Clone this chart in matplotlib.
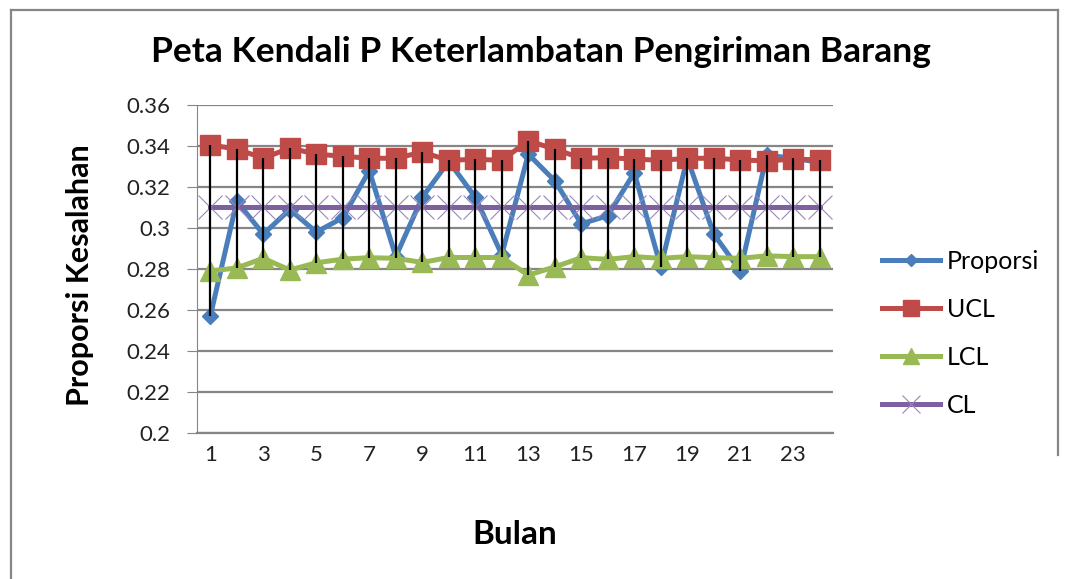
#===============================================================================
# Peta Kendali P - keterlambatan pengiriman barang
#===============================================================================
import numpy as np
import matplotlib
matplotlib.use('Agg')
import matplotlib.pyplot as plt
from matplotlib.lines import Line2D

plt.rcParams['font.family'] = ['Lato', 'DejaVu Sans']

#===============================================================================
# Data
#===============================================================================
bulan = list(range(1, 25))
proporsi = [0.257, 0.313, 0.297, 0.309, 0.298, 0.305, 0.328, 0.286,
            0.315, 0.3325, 0.315, 0.287, 0.336, 0.323, 0.302, 0.306,
            0.327, 0.281, 0.334, 0.297, 0.279, 0.3355, 0.334, 0.332]
ucl = [0.3405, 0.3385, 0.334, 0.339, 0.336, 0.335, 0.334, 0.334,
       0.337, 0.333, 0.3335, 0.333, 0.3425, 0.3385, 0.334, 0.3343,
       0.3336, 0.333, 0.334, 0.334, 0.3332, 0.3327, 0.3336, 0.3332]
lcl = [0.279, 0.2805, 0.2852, 0.2795, 0.283, 0.2848, 0.2855, 0.2852,
       0.2832, 0.2856, 0.2856, 0.2856, 0.277, 0.281, 0.2855, 0.2847,
       0.286, 0.2852, 0.286, 0.2855, 0.2852, 0.2864, 0.286, 0.286]
cl = [0.31] * 24
xtick_labels = [str(b) for b in bulan[::2]]

#===============================================================================
# Plot
#===============================================================================
fig = plt.figure(figsize=(10.68, 5.79), dpi=100)
ax = fig.add_axes([0.1845, 0.2522, 0.5955, 0.5665])

grid_c = '#868686'
ax.plot(bulan, proporsi, color='#4A7EBB', lw=3.6, marker='D', ms=8,
        label='Proporsi', zorder=3)
ax.plot(bulan, ucl, color='#BE4B48', lw=3.6, marker='s', ms=14,
        label='UCL', zorder=4)
ax.plot(bulan, lcl, color='#98B954', lw=3.6, marker='^', ms=14,
        label='LCL', zorder=5)
ax.plot(bulan, cl, color='#7D60A0', lw=3.6, marker='x', ms=17, mew=0.8,
        mec='#9A86BE', label='CL', zorder=6)

# high-low lines
allv = np.array([proporsi, ucl, lcl, cl])
ax.vlines(bulan, allv.min(axis=0), allv.max(axis=0), color='black',
          lw=1.6, zorder=7)

ax.set_xlim(0.5, 24.5)
ax.set_ylim(0.2, 0.36)
ax.set_yticks(np.arange(0.2, 0.361, 0.02))
ax.set_yticklabels(['0.2', '0.22', '0.24', '0.26', '0.28', '0.3',
                    '0.32', '0.34', '0.36'])
ax.set_xticks(bulan[::2])
ax.set_xticklabels(xtick_labels)
ax.grid(axis='y', color=grid_c, lw=1.6)
ax.set_axisbelow(True)
for s in ['top', 'right']:
    ax.spines[s].set_visible(False)
ax.spines['left'].set_color(grid_c)
ax.spines['bottom'].set_color(grid_c)
ax.spines['bottom'].set_linewidth(1.6)
ax.tick_params(axis='y', length=7, color=grid_c, pad=12, labelsize=16,
               labelcolor='#222222')
ax.tick_params(axis='x', length=0, pad=9, labelsize=16, labelcolor='#222222')

fig.text(0.5066, 0.910, 'Peta Kendali P Keterlambatan Pengiriman Barang',
         ha='center', va='center', fontsize=25.5, fontweight='bold')
fig.text(0.075, 0.525, 'Proporsi Kesalahan', rotation=90, ha='center',
         va='center', fontsize=22, fontweight='bold')
fig.text(0.482, 0.076, 'Bulan', ha='center', va='center', fontsize=24,
         fontweight='bold')

fig.legend(loc='upper left', bbox_to_anchor=(0.805, 0.607), frameon=False,
           fontsize=18, handlelength=2.3, labelspacing=1.0, handletextpad=0.3,
           markerscale=0.8)

# outer chart border
for xs, ys in [([11, 1058], [569, 569]), ([11, 11], [0, 569]),
               ([1058, 1058], [124, 569])]:
    fig.add_artist(Line2D(np.array(xs) / 1068, np.array(ys) / 579,
                          color=grid_c, lw=1.6))

fig.savefig('out.png', dpi=100)
